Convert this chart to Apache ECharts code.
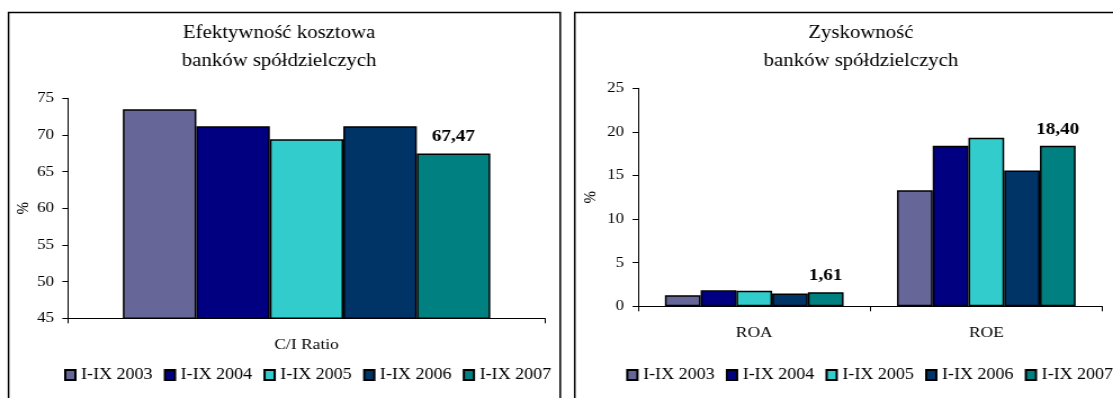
<!DOCTYPE html>
<html>
<head>
<meta charset="utf-8">
<script src="https://cdn.jsdelivr.net/npm/echarts@6/dist/echarts.min.js"></script>
<style>
  html, body { margin: 0; padding: 0; background: #fff; overflow: hidden; }
  /* the drawing is laid out narrower and widened to the page width */
  #chart { width: 989px; height: 398px; transform: scaleX(1.1254); transform-origin: 0 0; }
</style>
</head>
<body>
<div id="chart"></div>
<script>
// Series names (periods) and their colours
const periods = ['I-IX 2003', 'I-IX 2004', 'I-IX 2005', 'I-IX 2006', 'I-IX 2007'];
const periodColors = ['#666699', '#000080', '#33CCCC', '#003366', '#008080'];

// Left panel: cost efficiency (C/I ratio, %)
const costCategories = ['C/I Ratio'];
const costValues = [73.5, 71.2, 69.4, 71.2, 67.47];
const costTicks = { min: 45, max: 75, interval: 5 };

// Right panel: profitability (ROA, ROE, %)
const profitCategories = ['ROA', 'ROE'];
const roaValues = [1.28, 1.83, 1.78, 1.47, 1.61];
const roeValues = [13.32, 18.40, 19.32, 15.58, 18.40];
const profitTicks = { min: 0, max: 25, interval: 5 };

const FONT = '"Liberation Serif", "Times New Roman", serif';
const lastIdx = periods.length - 1;

function fmtComma(v) {
  return v.toFixed(2).replace('.', ',');
}

const blackLine = { lineStyle: { color: '#000', width: 1 } };

function yAxis(gridIndex, ticks, nameGap) {
  return {
    type: 'value', gridIndex,
    min: ticks.min, max: ticks.max, interval: ticks.interval,
    name: '%', nameLocation: 'middle', nameRotate: 90, nameGap,
    nameTextStyle: { color: '#000', fontFamily: FONT, fontSize: 15 },
    axisLine: Object.assign({ show: true }, blackLine),
    axisTick: Object.assign({ show: true, length: 5 }, blackLine),
    axisLabel: { margin: 12.5, color: '#000', fontFamily: FONT, fontSize: 15 },
    splitLine: { show: false }
  };
}

function xAxis(gridIndex, cats) {
  return {
    type: 'category', gridIndex, data: cats,
    axisLine: Object.assign({ show: true, onZero: false }, blackLine),
    axisTick: Object.assign({ show: true, length: 5 }, blackLine),
    axisLabel: { margin: 19, color: '#000', fontFamily: FONT, fontSize: 15.5 }
  };
}

const series = [];
periods.forEach((name, i) => {
  const isLast = i === lastIdx;
  const common = {
    type: 'bar', name,
    barGap: '0%', barCategoryGap: '23%',
    itemStyle: { color: periodColors[i], borderColor: '#000', borderWidth: 1.5 },
    emphasis: { disabled: true },
    label: {
      show: isLast, position: 'top', distance: 8,
      color: '#000', fontFamily: FONT, fontSize: 17, fontWeight: 'bold',
      formatter: p => fmtComma(p.value)
    }
  };
  series.push(Object.assign({}, common, {
    xAxisIndex: 0, yAxisIndex: 0, data: [costValues[i]]
  }));
  series.push(Object.assign({}, common, {
    xAxisIndex: 1, yAxisIndex: 1, data: [roaValues[i], roeValues[i]]
  }));
});

function legend(left) {
  return {
    data: periods, left, top: 367, width: 700, padding: 0,
    orient: 'horizontal',
    icon: 'rect', itemWidth: 9, itemHeight: 10, itemGap: 10,
    textStyle: { color: '#000', fontFamily: FONT, fontSize: 16 },
    selectedMode: false
  };
}

function title(left, text) {
  return {
    text, left, top: 14, textAlign: 'center',
    textStyle: { color: '#000', fontFamily: FONT, fontSize: 18.5, fontWeight: 'normal', lineHeight: 28 }
  };
}

const option = {
  animation: false,
  backgroundColor: '#fff',
  title: [
    title(243, 'Efektywność kosztowa\nbanków spółdzielczych'),
    title(760, 'Zyskowność\nbanków spółdzielczych')
  ],
  legend: [legend(57), legend(556.4)],
  grid: [
    { left: 60.4, top: 98.3, width: 424, height: 220 },
    { left: 567.1, top: 88.3, width: 412.4, height: 218 }
  ],
  xAxis: [xAxis(0, costCategories), xAxis(1, profitCategories)],
  yAxis: [yAxis(0, costTicks, 25), yAxis(1, profitTicks, 34.5)],
  series,
  graphic: [
    { type: 'rect', silent: true, z: -1,
      shape: { x: 7.6, y: 12.5, width: 490.2, height: 420 },
      style: { fill: 'none', stroke: '#000', lineWidth: 1.5 } },
    { type: 'rect', silent: true, z: -1,
      shape: { x: 510.7, y: 12.5, width: 600, height: 420 },
      style: { fill: 'none', stroke: '#000', lineWidth: 1.5 } }
  ]
};

const chart = echarts.init(document.getElementById('chart'), null, { renderer: 'canvas' });
chart.setOption(option);
</script>
</body>
</html>
